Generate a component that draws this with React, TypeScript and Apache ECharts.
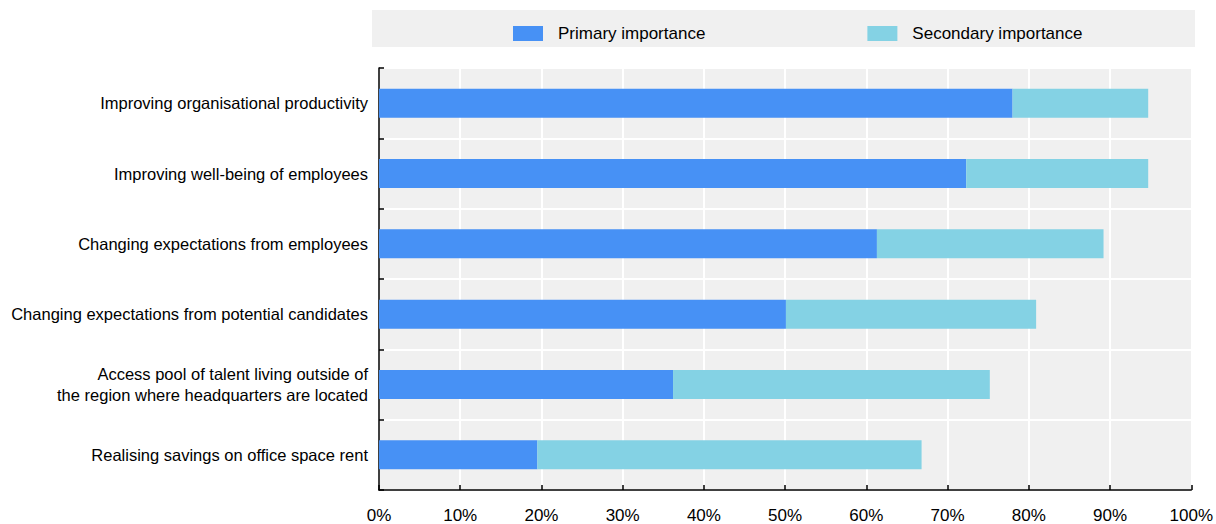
import React, { useEffect, useRef } from "react";
import * as echarts from "echarts";

const categories = [
  "Improving organisational productivity",
  "Improving well-being of employees",
  "Changing expectations from employees",
  "Changing expectations from potential candidates",
  "Access pool of talent living outside of\nthe region where headquarters are located",
  "Realising savings on office space rent",
];
const primary = [78.0, 72.3, 61.3, 50.1, 36.2, 19.5];
const secondary = [16.7, 22.4, 27.9, 30.8, 39.0, 47.3];
const seriesNames = ["Primary importance", "Secondary importance"];
const xTicks = { min: 0, max: 100, interval: 10 };

const FONT = "'Liberation Sans Narrow', 'Arial Narrow', 'Liberation Sans', Arial, sans-serif";

export default function App() {
  const ref = useRef<HTMLDivElement>(null);
  useEffect(() => {
    const chart = echarts.init(ref.current!, undefined, { renderer: "svg" });
    chart.setOption({
      animation: false,
      textStyle: { fontFamily: FONT },
      graphic: [
        {
          type: "rect",
          shape: { x: 372, y: 10, width: 823, height: 37 },
          style: { fill: "#f0f0f0" },
          z: -1,
        },
      ],
      legend: {
        left: 508,
        top: 20,
        itemWidth: 30,
        itemHeight: 15,
        itemGap: 162,
        icon: "rect",
        textStyle: { fontFamily: FONT, fontSize: 17, color: "#000", padding: [0, 0, 0, 10] },
        data: seriesNames,
      },
      grid: {
        left: 379,
        right: 22,
        top: 68,
        bottom: 34,
        show: true,
        backgroundColor: "#f0f0f0",
        borderWidth: 0,
      },
      xAxis: {
        type: "value",
        min: xTicks.min,
        max: xTicks.max,
        interval: xTicks.interval,
        axisLine: { show: true, lineStyle: { color: "#000", width: 1.5 } },
        axisTick: { show: true, inside: true, length: 5, lineStyle: { color: "#000", width: 1.5 } },
        axisLabel: {
          formatter: "{value}%",
          color: "#000",
          fontFamily: FONT,
          fontSize: 17,
          margin: 17,
        },
        splitLine: { show: true, lineStyle: { color: "#fff", width: 2 } },
      },
      yAxis: {
        type: "category",
        data: categories,
        inverse: true,
        axisLine: { show: true, lineStyle: { color: "#000", width: 1.5 } },
        axisTick: { show: true, inside: true, length: 5, lineStyle: { color: "#000", width: 1.5 } },
        axisLabel: {
          color: "#000",
          fontFamily: FONT,
          fontSize: 16.5,
          margin: 11,
          lineHeight: 21,
          align: "right",
        },
        splitLine: { show: true, lineStyle: { color: "#fff", width: 2 } },
      },
      series: [
        {
          name: seriesNames[0],
          type: "bar",
          stack: "total",
          data: primary,
          barWidth: 29,
          itemStyle: { color: "#4791F5" },
        },
        {
          name: seriesNames[1],
          type: "bar",
          stack: "total",
          data: secondary,
          barWidth: 29,
          itemStyle: { color: "#84D2E4" },
        },
      ],
    });
    return () => chart.dispose();
  }, []);
  return (
    <div
      ref={ref}
      style={{ position: "absolute", left: 0, top: 0, width: 1216, height: 524 }}
    />
  );
}
